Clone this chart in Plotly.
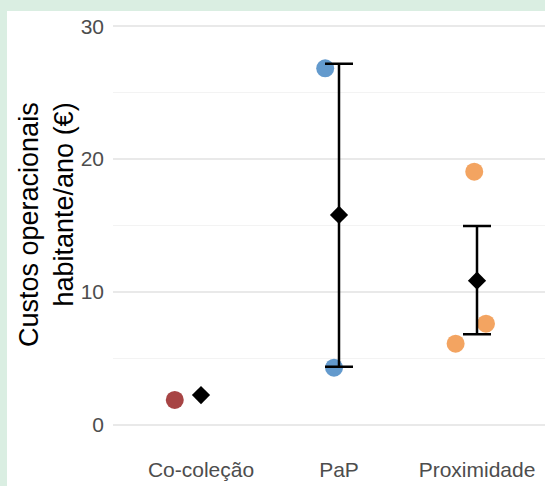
import plotly.graph_objects as go

# ---- data ----
categories = ["Co-coleção", "PaP", "Proximidade"]
cat_colors = ["#a23a3a", "#5b95ca", "#f29f58"]

# individual observations (category index, jittered x offset, value)
pt_cat = [0, 1, 1, 2, 2, 2]
pt_jitter = [-0.19, -0.10, -0.036, -0.02, 0.065, -0.155]
pt_value = [1.85, 26.84, 4.28, 19.05, 7.60, 6.09]

# summary (mean and error bar limits)
mean_value = [2.22, 15.79, 10.84]
err_high = [None, 27.19, 14.96]
err_low = [None, 4.35, 6.80]

y_ticks = [0, 10, 20, 30]

W, H = 545, 486
L, R, T, B = 113, 0, 11, 38

fig = go.Figure()

# points
for ci, cat in enumerate(categories):
    xs = [ci + 1 + j for c, j in zip(pt_cat, pt_jitter) if c == ci]
    ys = [v for c, v in zip(pt_cat, pt_value) if c == ci]
    fig.add_trace(go.Scatter(
        x=xs, y=ys, mode="markers",
        marker=dict(size=18, color=cat_colors[ci], opacity=0.95, line=dict(width=0)),
        showlegend=False, hoverinfo="skip"))

# means with error bars
ex, ey, eplus, eminus = [], [], [], []
nx, ny = [], []
for ci, m in enumerate(mean_value):
    if err_high[ci] is not None:
        ex.append(ci + 1)
        ey.append(m)
        eplus.append(err_high[ci] - m)
        eminus.append(m - err_low[ci])
    else:
        nx.append(ci + 1)
        ny.append(m)

fig.add_trace(go.Scatter(
    x=ex, y=ey, mode="markers",
    marker=dict(symbol="diamond", size=14, color="black"),
    error_y=dict(type="data", symmetric=False, array=eplus, arrayminus=eminus,
                 color="black", thickness=2.5, width=14),
    showlegend=False, hoverinfo="skip"))
fig.add_trace(go.Scatter(
    x=nx, y=ny, mode="markers",
    marker=dict(symbol="diamond", size=14, color="black"),
    showlegend=False, hoverinfo="skip"))

pw = W - L - R
ph = H - T - B
fig.add_shape(type="rect", xref="paper", yref="paper",
              x0=(7 - L) / pw, x1=1.01, y0=-(B + 2) / ph, y1=1.0,
              fillcolor="white", line=dict(width=0), layer="below")

fig.add_annotation(
    text="Custos operacionais<br>habitante/ano (€)",
    xref="paper", yref="paper",
    x=(46 - L) / pw, y=(H - B - 225) / ph,
    xanchor="center", yanchor="middle",
    textangle=-90, align="right", showarrow=False,
    font=dict(family="Liberation Sans, Arial", size=27, color="black"))

fig.update_layout(
    width=W, height=H,
    margin=dict(l=L, r=R, t=T, b=B, pad=0),
    paper_bgcolor="#daeee2",
    plot_bgcolor="white",
    font=dict(family="Liberation Sans, Arial", size=21, color="#4d4d4d"),
    showlegend=False,
    xaxis=dict(
        range=[1 - 88 / 138, 3 + 68 / 138],
        tickmode="array", tickvals=[1, 2, 3], ticktext=categories,
        showgrid=False, zeroline=False, showline=False, ticks="",
        ticklabelstandoff=7,
        tickfont=dict(size=21, color="#4d4d4d")),
    yaxis=dict(
        range=[-(448 - 424.5) / 13.27, 30 + (26.4 - 11) / 13.27],
        tickmode="array", tickvals=y_ticks,
        showgrid=True, gridcolor="#e9e9e9", gridwidth=1.5,
        zeroline=False, showline=False, ticks="",
        ticklabelstandoff=8,
        tickfont=dict(size=21, color="#4d4d4d"),
        minor=dict(dtick=5, tick0=0, showgrid=True, gridcolor="#f3f3f3", gridwidth=1)),
)

fig.write_html(
    "out.html",
    config={"displayModeBar": False},
    post_script="document.body.style.margin='0';document.body.style.padding='0';document.body.style.overflow='hidden';",
)
